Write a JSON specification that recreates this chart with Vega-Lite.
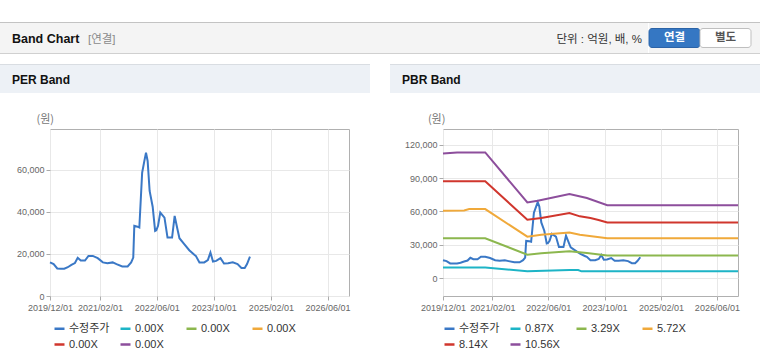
{
  "$schema": "https://vega.github.io/schema/vega-lite/v6.json",
  "background": "white",
  "padding": {"top": 22, "left": 0, "right": 0, "bottom": 0},
  "config": {
    "font": "Liberation Sans, Noto Sans CJK KR",
    "view": {"stroke": null},
    "axis": {"labelFontSize": 9, "labelColor": "#666666", "labelFont": "Liberation Sans", "tickColor": "#aaaaaa", "tickSize": 4, "domain": false, "gridColor": "#e8e8e8", "titleFont": "Noto Sans CJK KR", "titleFontSize": 11, "titleFontWeight": "normal", "titleColor": "#777777", "labelOverlap": false, "labelFlush": false},
    "legend": {"direction": "horizontal", "columns": 4, "symbolType": "stroke", "symbolStrokeWidth": 2.5, "symbolSize": 100, "labelFontSize": 11, "labelColor": "#333333", "labelFont": "Liberation Sans, Noto Sans CJK KR", "gridAlign": "all", "columnPadding": 5, "rowPadding": 4, "labelOffset": 3, "padding": 0},
    "title": {"font": "Liberation Sans, Noto Sans CJK KR"}
  },
  "datasets": {
    "price": [
      {"date": "2019/12/01", "value": 16000, "series": "수정주가"},
      {"date": "2020/01/01", "value": 15200, "series": "수정주가"},
      {"date": "2020/02/01", "value": 13100, "series": "수정주가"},
      {"date": "2020/03/01", "value": 13000, "series": "수정주가"},
      {"date": "2020/04/01", "value": 13000, "series": "수정주가"},
      {"date": "2020/05/01", "value": 13700, "series": "수정주가"},
      {"date": "2020/06/01", "value": 14800, "series": "수정주가"},
      {"date": "2020/07/01", "value": 15700, "series": "수정주가"},
      {"date": "2020/07/25", "value": 18200, "series": "수정주가"},
      {"date": "2020/08/20", "value": 16900, "series": "수정주가"},
      {"date": "2020/09/25", "value": 16900, "series": "수정주가"},
      {"date": "2020/10/25", "value": 19100, "series": "수정주가"},
      {"date": "2020/12/01", "value": 19100, "series": "수정주가"},
      {"date": "2021/01/12", "value": 18000, "series": "수정주가"},
      {"date": "2021/02/25", "value": 16000, "series": "수정주가"},
      {"date": "2021/04/05", "value": 15600, "series": "수정주가"},
      {"date": "2021/05/20", "value": 16000, "series": "수정주가"},
      {"date": "2021/06/22", "value": 15200, "series": "수정주가"},
      {"date": "2021/08/10", "value": 14100, "series": "수정주가"},
      {"date": "2021/09/25", "value": 14100, "series": "수정주가"},
      {"date": "2021/10/25", "value": 16000, "series": "수정주가"},
      {"date": "2021/11/12", "value": 18300, "series": "수정주가"},
      {"date": "2021/11/21", "value": 33400, "series": "수정주가"},
      {"date": "2021/12/18", "value": 33000, "series": "수정주가"},
      {"date": "2022/01/03", "value": 32600, "series": "수정주가"},
      {"date": "2022/01/27", "value": 58700, "series": "수정주가"},
      {"date": "2022/02/15", "value": 64300, "series": "수정주가"},
      {"date": "2022/03/01", "value": 68200, "series": "수정주가"},
      {"date": "2022/03/15", "value": 64300, "series": "수정주가"},
      {"date": "2022/04/01", "value": 50000, "series": "수정주가"},
      {"date": "2022/04/27", "value": 42500, "series": "수정주가"},
      {"date": "2022/05/18", "value": 31000, "series": "수정주가"},
      {"date": "2022/05/28", "value": 31300, "series": "수정주가"},
      {"date": "2022/06/12", "value": 33400, "series": "수정주가"},
      {"date": "2022/07/01", "value": 39700, "series": "수정주가"},
      {"date": "2022/08/06", "value": 37300, "series": "수정주가"},
      {"date": "2022/09/01", "value": 27800, "series": "수정주가"},
      {"date": "2022/10/10", "value": 27800, "series": "수정주가"},
      {"date": "2022/11/01", "value": 38100, "series": "수정주가"},
      {"date": "2022/11/25", "value": 31800, "series": "수정주가"},
      {"date": "2022/12/12", "value": 27500, "series": "수정주가"},
      {"date": "2023/01/22", "value": 24700, "series": "수정주가"},
      {"date": "2023/03/06", "value": 21800, "series": "수정주가"},
      {"date": "2023/04/18", "value": 19600, "series": "수정주가"},
      {"date": "2023/05/01", "value": 19100, "series": "수정주가"},
      {"date": "2023/06/01", "value": 16000, "series": "수정주가"},
      {"date": "2023/07/12", "value": 16000, "series": "수정주가"},
      {"date": "2023/08/12", "value": 17100, "series": "수정주가"},
      {"date": "2023/09/03", "value": 20700, "series": "수정주가"},
      {"date": "2023/09/25", "value": 16400, "series": "수정주가"},
      {"date": "2023/10/22", "value": 16700, "series": "수정주가"},
      {"date": "2023/11/28", "value": 18000, "series": "수정주가"},
      {"date": "2023/12/28", "value": 15500, "series": "수정주가"},
      {"date": "2024/02/01", "value": 15600, "series": "수정주가"},
      {"date": "2024/03/12", "value": 16000, "series": "수정주가"},
      {"date": "2024/04/22", "value": 15200, "series": "수정주가"},
      {"date": "2024/05/25", "value": 13300, "series": "수정주가"},
      {"date": "2024/06/22", "value": 13300, "series": "수정주가"},
      {"date": "2024/07/12", "value": 15200, "series": "수정주가"},
      {"date": "2024/08/06", "value": 18700, "series": "수정주가"}
    ],
    "bands": [
      {"series": "10.56X", "date": "2019/12/01", "value": 112000},
      {"series": "10.56X", "date": "2020/04/01", "value": 113000},
      {"series": "10.56X", "date": "2020/12/01", "value": 113000},
      {"series": "10.56X", "date": "2021/12/01", "value": 68000},
      {"series": "10.56X", "date": "2022/03/01", "value": 69600},
      {"series": "10.56X", "date": "2022/12/01", "value": 75600},
      {"series": "10.56X", "date": "2023/05/01", "value": 72000},
      {"series": "10.56X", "date": "2023/10/25", "value": 65500},
      {"series": "10.56X", "date": "2026/12/01", "value": 65500},
      {"series": "8.14X", "date": "2019/12/01", "value": 87000},
      {"series": "8.14X", "date": "2020/12/01", "value": 87000},
      {"series": "8.14X", "date": "2021/12/01", "value": 52500},
      {"series": "8.14X", "date": "2022/04/01", "value": 54000},
      {"series": "8.14X", "date": "2022/12/01", "value": 58500},
      {"series": "8.14X", "date": "2023/03/01", "value": 55500},
      {"series": "8.14X", "date": "2023/06/01", "value": 54000},
      {"series": "8.14X", "date": "2023/08/10", "value": 52200},
      {"series": "8.14X", "date": "2023/10/25", "value": 50000},
      {"series": "8.14X", "date": "2026/12/01", "value": 50000},
      {"series": "5.72X", "date": "2019/12/01", "value": 60600},
      {"series": "5.72X", "date": "2020/06/01", "value": 60800},
      {"series": "5.72X", "date": "2020/07/15", "value": 62000},
      {"series": "5.72X", "date": "2020/12/01", "value": 62000},
      {"series": "5.72X", "date": "2021/12/01", "value": 37200},
      {"series": "5.72X", "date": "2022/04/01", "value": 39000},
      {"series": "5.72X", "date": "2022/12/01", "value": 41000},
      {"series": "5.72X", "date": "2023/03/01", "value": 39000},
      {"series": "5.72X", "date": "2023/10/25", "value": 35700},
      {"series": "5.72X", "date": "2026/12/01", "value": 35700},
      {"series": "3.29X", "date": "2019/12/01", "value": 35700},
      {"series": "3.29X", "date": "2020/12/01", "value": 35700},
      {"series": "3.29X", "date": "2021/12/01", "value": 21000},
      {"series": "3.29X", "date": "2022/04/01", "value": 22200},
      {"series": "3.29X", "date": "2022/12/01", "value": 24000},
      {"series": "3.29X", "date": "2023/05/01", "value": 22500},
      {"series": "3.29X", "date": "2023/10/25", "value": 20300},
      {"series": "3.29X", "date": "2026/12/01", "value": 20300},
      {"series": "0.87X", "date": "2019/12/01", "value": 9500},
      {"series": "0.87X", "date": "2020/12/01", "value": 9500},
      {"series": "0.87X", "date": "2021/12/01", "value": 6000},
      {"series": "0.87X", "date": "2022/12/01", "value": 7200},
      {"series": "0.87X", "date": "2023/02/15", "value": 7200},
      {"series": "0.87X", "date": "2023/03/15", "value": 6000},
      {"series": "0.87X", "date": "2026/12/01", "value": 6000}
    ]
  },
  "spacing": 10,
  "resolve": {"scale": {"color": "independent", "fill": "independent", "stroke": "independent"}, "legend": {"color": "independent", "fill": "independent", "stroke": "independent"}},
  "vconcat": [
    {
      "spacing": 0,
      "resolve": {"scale": {"color": "independent", "fill": "independent", "stroke": "independent"}},
      "vconcat": [
        {"width": 760, "height": 1, "data": {"values": [{}]}, "mark": {"type": "rect", "color": "#c3c3c3"}, "encoding": {}, "view": {"fill": "#c3c3c3", "stroke": null}},
        {
          "spacing": 0,
          "hconcat": [
            {"width": 85, "height": 30, "data": {"values": [{}]}, "mark": {"type": "rect", "color": "#f4f4f4"}, "encoding": {}, "view": {"fill": "#f4f4f4", "stroke": null},
             "title": {"text": "Band Chart", "anchor": "start", "frame": "group", "orient": "top", "baseline": "top", "offset": -22.5, "dx": 12, "fontSize": 12.5, "fontWeight": "bold", "color": "#111111"}},
            {"width": 300, "height": 30, "data": {"values": [{}]}, "mark": {"type": "rect", "color": "#f4f4f4"}, "encoding": {}, "view": {"fill": "#f4f4f4", "stroke": null},
             "title": {"text": "[연결]", "anchor": "start", "frame": "group", "orient": "top", "baseline": "top", "offset": -22.7, "dx": 3, "fontSize": 11.5, "fontWeight": "normal", "color": "#8a8a8a"}},
            {"width": 263, "height": 30, "data": {"values": [{}]}, "mark": {"type": "rect", "color": "#f4f4f4"}, "encoding": {}, "view": {"fill": "#f4f4f4", "stroke": null},
             "title": {"text": "단위 : 억원, 배, %", "anchor": "end", "frame": "group", "orient": "top", "baseline": "top", "offset": -22.7, "dx": -6, "fontSize": 11.5, "fontWeight": "normal", "color": "#333333"}},
            {"width": 112, "height": 30, "view": {"fill": "#f4f4f4", "stroke": null},
             "data": {"values": [{"b": "연결"}, {"b": "별도"}]},
             "encoding": {
               "x": {"field": "b", "type": "nominal", "sort": null, "scale": {"domain": ["연결", "별도"], "paddingInner": 0, "paddingOuter": 0.098, "align": 0}, "axis": null},
               "y": {"datum": "btn", "type": "nominal", "scale": {"paddingOuter": 0.29, "paddingInner": 0}, "axis": null}
             },
             "layer": [
               {"mark": {"type": "bar", "cornerRadius": 3, "strokeWidth": 1},
                "encoding": {
                  "fill": {"field": "b", "type": "nominal", "scale": {"domain": ["연결", "별도"], "range": ["#3577c3", "#ffffff"]}, "legend": null},
                  "stroke": {"field": "b", "type": "nominal", "scale": {"domain": ["연결", "별도"], "range": ["#2b63a6", "#bfbfbf"]}, "legend": null}
                }},
               {"mark": {"type": "text", "fontWeight": "bold", "fontSize": 11.5, "font": "Noto Sans CJK KR"},
                "encoding": {
                  "text": {"field": "b"},
                  "color": {"field": "b", "type": "nominal", "scale": {"domain": ["연결", "별도"], "range": ["#ffffff", "#555555"]}, "legend": null}
                }}
             ]}
          ]
        },
        {"width": 760, "height": 1, "data": {"values": [{}]}, "mark": {"type": "rect", "color": "#d0d0d0"}, "encoding": {}, "view": {"fill": "#d0d0d0", "stroke": null}}
      ]
    },
    {
      "spacing": 20,
      "resolve": {"scale": {"color": "independent"}, "legend": {"color": "independent"}},
      "hconcat": [
        {
          "spacing": 19,
          "vconcat": [
            {"spacing": 0, "vconcat": [
              {"width": 370, "height": 1, "data": {"values": [{}]}, "mark": {"type": "rect", "color": "#d9dde2"}, "encoding": {}, "view": {"fill": "#d9dde2", "stroke": null}},
              {"width": 370, "height": 28, "data": {"values": [{}]}, "mark": {"type": "rect", "color": "#edf1f6"}, "encoding": {}, "view": {"fill": "#edf1f6", "stroke": null},
               "title": {"text": "PER Band", "anchor": "start", "frame": "group", "orient": "top", "baseline": "top", "offset": -22.3, "dx": 12, "fontSize": 12, "fontWeight": "bold", "color": "#111111"}}
            ]},
            {"spacing": 0, "hconcat": [
              {"width": 1, "height": 1, "data": {"values": [{}]}, "mark": {"type": "rect", "opacity": 0}, "encoding": {}},
              {
                "width": 299, "height": 167,
                "view": {"stroke": "#b0b0b0", "fill": "white"},
                "data": {"name": "price"},
                "mark": {"type": "line", "strokeWidth": 2},
                "encoding": {
                  "x": {"field": "date", "type": "temporal",
                        "scale": {"domain": [{"year": 2019, "month": 12, "date": 1}, {"year": 2026, "month": 12, "date": 1}]},
                        "axis": {"title": null, "format": "%Y/%m/%d", "labelPadding": 3,
                                 "values": [{"year": 2019, "month": 12, "date": 1}, {"year": 2021, "month": 2, "date": 1}, {"year": 2022, "month": 6, "date": 1}, {"year": 2023, "month": 10, "date": 1}, {"year": 2025, "month": 2, "date": 1}, {"year": 2026, "month": 6, "date": 1}]}},
                  "y": {"field": "value", "type": "quantitative",
                        "scale": {"domain": [0, 79500], "nice": false, "zero": false},
                        "axis": {"values": [0, 20000, 40000, 60000], "format": ",.0f", "labelPadding": 2, "minExtent": 48,
                                 "title": "(원)", "titleAngle": 0, "titleAlign": "left", "titleBaseline": "middle", "titleX": -14, "titleY": -10}},
                  "color": {"field": "series", "type": "nominal",
                            "scale": {"domain": ["수정주가", "b1", "b2", "b3", "b4", "b5"], "range": ["#3a78c6", "#1db4c6", "#8cb74e", "#f0a93a", "#d0362d", "#8d4e9c"]},
                            "legend": {"title": null, "orient": "none", "legendX": 53, "legendY": 258, "labelExpr": "datum.label == '수정주가' ? '수정주가' : '0.00X'"}}
                }
              }
            ]}
          ]
        },
        {
          "spacing": 19,
          "vconcat": [
            {"spacing": 0, "vconcat": [
              {"width": 370, "height": 1, "data": {"values": [{}]}, "mark": {"type": "rect", "color": "#d9dde2"}, "encoding": {}, "view": {"fill": "#d9dde2", "stroke": null}},
              {"width": 370, "height": 28, "data": {"values": [{}]}, "mark": {"type": "rect", "color": "#edf1f6"}, "encoding": {}, "view": {"fill": "#edf1f6", "stroke": null},
               "title": {"text": "PBR Band", "anchor": "start", "frame": "group", "orient": "top", "baseline": "top", "offset": -22.3, "dx": 12, "fontSize": 12, "fontWeight": "bold", "color": "#111111"}}
            ]},
            {"spacing": 0, "hconcat": [
              {"width": 1, "height": 1, "data": {"values": [{}]}, "mark": {"type": "rect", "opacity": 0}, "encoding": {}},
              {
                "width": 295, "height": 167,
                "view": {"stroke": "#b0b0b0", "fill": "white"},
                "encoding": {
                  "x": {"field": "date", "type": "temporal",
                        "scale": {"domain": [{"year": 2019, "month": 12, "date": 1}, {"year": 2026, "month": 12, "date": 1}]},
                        "axis": {"title": null, "format": "%Y/%m/%d", "labelPadding": 3,
                                 "values": [{"year": 2019, "month": 12, "date": 1}, {"year": 2021, "month": 2, "date": 1}, {"year": 2022, "month": 6, "date": 1}, {"year": 2023, "month": 10, "date": 1}, {"year": 2025, "month": 2, "date": 1}, {"year": 2026, "month": 6, "date": 1}]}},
                  "y": {"field": "value", "type": "quantitative",
                        "scale": {"domain": [-16200, 134100], "nice": false, "zero": false},
                        "axis": {"values": [0, 30000, 60000, 90000, 120000], "format": ",.0f", "labelPadding": 2, "minExtent": 51,
                                 "title": "(원)", "titleAngle": 0, "titleAlign": "left", "titleBaseline": "middle", "titleX": -15.6, "titleY": -10}},
                  "color": {"field": "series", "type": "nominal",
                            "scale": {"domain": ["수정주가", "0.87X", "3.29X", "5.72X", "8.14X", "10.56X"], "range": ["#3a78c6", "#1db4c6", "#8cb74e", "#f0a93a", "#d0362d", "#8d4e9c"]},
                            "legend": {"title": null, "orient": "none", "legendX": 53, "legendY": 258}}
                },
                "layer": [
                  {"data": {"name": "price"}, "mark": {"type": "line", "strokeWidth": 2}},
                  {"data": {"name": "bands"}, "mark": {"type": "line", "strokeWidth": 2}}
                ]
              }
            ]}
          ]
        }
      ]
    }
  ]
}
